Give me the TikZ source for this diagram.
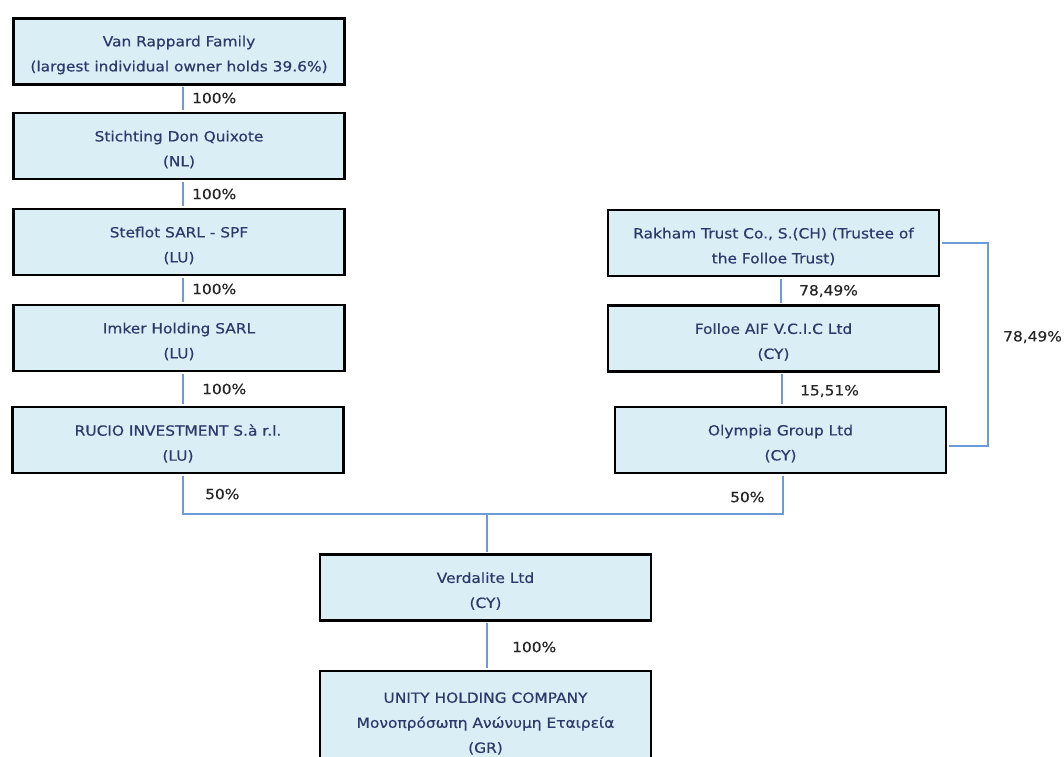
\documentclass[tikz,border=0pt]{standalone}
\usepackage{fontspec}
\setmainfont{DejaVu Sans}[FakeStretch=1.1,FakeBold=0.4]
\definecolor{boxfill}{HTML}{DAEEF6}
\definecolor{boxtext}{HTML}{2A3A6A}
\definecolor{conn}{HTML}{6E9BD7}
\tikzset{
  entbox/.style={draw=black, line width=2.8pt, fill=boxfill, minimum width=331pt, minimum height=66pt, inner sep=0pt},
  enttext/.style={text=boxtext, align=center, font=\fontsize{14}{25}\selectfont, inner sep=0pt},
  pct/.style={text=black!85, anchor=west, font=\fontsize{14}{16}\selectfont, inner sep=0pt},
  link/.style={draw=conn, line width=1.5pt}
}
\newcommand\entity[4]{%
  \node[entbox,#4] (#1) at (#2) {};
  \node[enttext] (#1t) at ([yshift=-3.5pt]#1.center) {#3};}
\begin{document}
\begin{tikzpicture}[x=1pt,y=-1pt]
\clip (0,0) rectangle (1064,756);
\fill[white] (0,0) rectangle (1064,756);
\coordinate (jl) at (183,514);
\coordinate (jr) at (783,514);
\coordinate (jm) at (487,514);
\coordinate (bk) at (988,0);
% boxes
\entity{van}{179,51.5}{Van Rappard Family\\(largest individual owner holds 39.6\%)}{}
\entity{sti}{179,146}{Stichting Don Quixote\\(NL)}{}
\entity{ste}{179,242}{Steflot SARL - SPF\\(LU)}{}
\entity{imk}{179,338}{Imker Holding SARL\\(LU)}{}
\entity{ruc}{178,440}{RUCIO INVESTMENT S.à r.l.\\(LU)}{}
\entity{rak}{773.5,243}{Rakham Trust Co., S.(CH) (Trustee of\\the Folloe Trust)}{}
\entity{fol}{773.5,338.5}{Folloe AIF V.C.I.C Ltd\\(CY)}{}
\entity{oly}{780.5,440}{Olympia Group Ltd\\(CY)}{}
\entity{ver}{485.5,587.5}{Verdalite Ltd\\(CY)}{}
\entity{uni}{485.5,720}{UNITY HOLDING COMPANY\\Μονοπρόσωπη Ανώνυμη Εταιρεία\\(GR)}{minimum height=98pt}
% links
\draw[link] ([xshift=4pt,yshift=-1.4pt]van.south) -- ([xshift=4pt,yshift=1.4pt]sti.north);
\draw[link] ([xshift=4pt,yshift=-1.4pt]sti.south) -- ([xshift=4pt,yshift=1.4pt]ste.north);
\draw[link] ([xshift=4pt,yshift=-1.4pt]ste.south) -- ([xshift=4pt,yshift=1.4pt]imk.north);
\draw[link] ([xshift=4pt,yshift=-1.4pt]imk.south) -- ([xshift=5pt,yshift=1.4pt]ruc.north);
\draw[link] ([xshift=5pt,yshift=-1.4pt]ruc.south) -- (jl) -- (jr) -- ([xshift=2.5pt,yshift=-1.4pt]oly.south);
\draw[link] (jm) -- ([xshift=1.5pt,yshift=1.4pt]ver.north);
\draw[link] ([xshift=1.5pt,yshift=-1.4pt]ver.south) -- ([xshift=1.5pt,yshift=1.4pt]uni.north);
\draw[link] ([xshift=7.5pt,yshift=-1.4pt]rak.south) -- ([xshift=7.5pt,yshift=1.4pt]rak.south |- fol.north);
\draw[link] ([xshift=8.5pt,yshift=-1.4pt]fol.south) -- ([xshift=8.5pt,yshift=1.4pt]fol.south |- oly.north);
\draw[link] ([xshift=1.4pt]rak.east) -- (rak.east -| bk) -- ([yshift=-6pt]oly.east -| bk) -- ([xshift=1.4pt,yshift=-6pt]oly.east);
% labels
\node[pct] (p1) at (192,98) {100\%};
\node[pct] (p2) at (192,194) {100\%};
\node[pct] (p3) at (192,289) {100\%};
\node[pct] (p4) at (202,389) {100\%};
\node[pct] (p5) at (205,494) {50\%};
\node[pct] (p6) at (799,291) {78,49\%};
\node[pct] (p7) at (800,391) {15,51\%};
\node[pct] (p8) at (730,497) {50\%};
\node[pct] (p9) at (1003,337) {78,49\%};
\node[pct] (p10) at (512,647) {100\%};
\end{tikzpicture}
\end{document}
